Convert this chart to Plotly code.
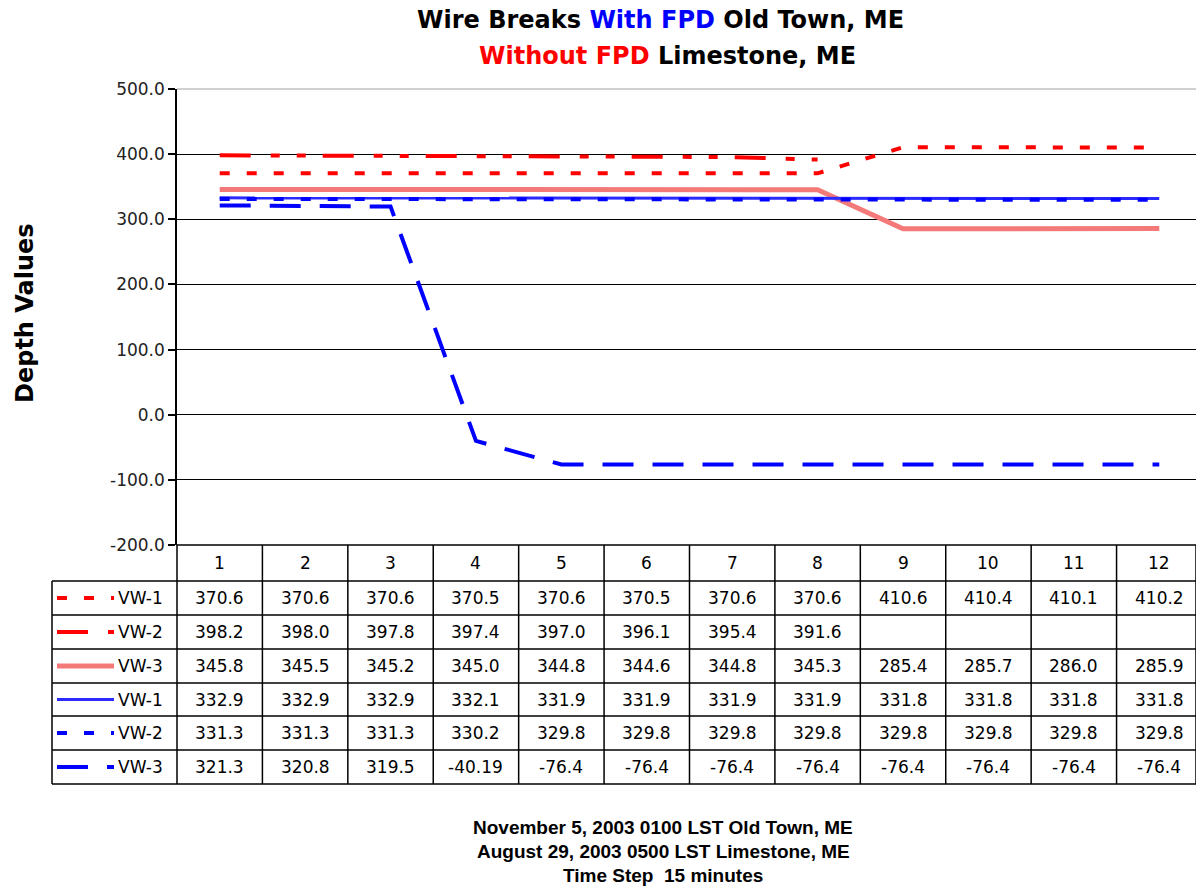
import plotly.graph_objects as go

# ---------------- data ----------------
steps = [1, 2, 3, 4, 5, 6, 7, 8, 9, 10, 11, 12]
series_names = ["VW-1", "VW-2", "VW-3", "VW-1", "VW-2", "VW-3"]
red_vw1 = [370.6, 370.6, 370.6, 370.5, 370.6, 370.5, 370.6, 370.6, 410.6, 410.4, 410.1, 410.2]
red_vw2 = [398.2, 398.0, 397.8, 397.4, 397.0, 396.1, 395.4, 391.6, None, None, None, None]
red_vw3 = [345.8, 345.5, 345.2, 345.0, 344.8, 344.6, 344.8, 345.3, 285.4, 285.7, 286.0, 285.9]
blue_vw1 = [332.9, 332.9, 332.9, 332.1, 331.9, 331.9, 331.9, 331.9, 331.8, 331.8, 331.8, 331.8]
blue_vw2 = [331.3, 331.3, 331.3, 330.2, 329.8, 329.8, 329.8, 329.8, 329.8, 329.8, 329.8, 329.8]
blue_vw3 = [321.3, 320.8, 319.5, -40.19, -76.4, -76.4, -76.4, -76.4, -76.4, -76.4, -76.4, -76.4]
y_ticks = [-200, -100, 0, 100, 200, 300, 400, 500]

series_values = [red_vw1, red_vw2, red_vw3, blue_vw1, blue_vw2, blue_vw3]

# ---------------- styles ----------------
RED = "#ff0000"
BLUE = "#0000ff"
styles = [
    dict(color=RED, width=4, dash="10px,17px"),
    dict(color=RED, width=4, dash="31px,20px,9px,17px,9px,17px"),
    dict(color="#f47a7a", width=5, dash="solid"),
    dict(color="#2b2bff", width=3, dash="solid"),
    dict(color=BLUE, width=4, dash="10px,17px"),
    dict(color=BLUE, width=4, dash="31px,19px"),
]

W, H = 1196, 888
L, R, T, B = 177, 0, 89, 343
PW = W - L - R
PH = H - T - B
X0, X1 = 0.5, 12.43

def px_x(p):
    return (p - L) / PW

def px_y(p):
    return (H - B - p) / PH

FONT = "DejaVu Sans, Arial, sans-serif"

fig = go.Figure()
for vals, st in zip(series_values, styles):
    fig.add_trace(go.Scatter(
        x=steps, y=vals, mode="lines", line=st,
        connectgaps=False, hoverinfo="skip", showlegend=False))

shapes = []
annotations = []

# top grey border at 500
shapes.append(dict(type="line", xref="paper", yref="paper", x0=0, x1=1, y0=1, y1=1,
                   line=dict(color="#a0a0a0", width=1)))

# ---------------- data table ----------------
row_px = [545, 581, 615, 649, 683, 716, 750, 784]
LEG_LEFT = 52
line_style = dict(color="black", width=1.5)
shapes.append(dict(type="line", xref="paper", yref="paper", x0=0, x1=1,
                   y0=px_y(row_px[0]), y1=px_y(row_px[0]), line=line_style))
for rp in row_px[1:]:
    shapes.append(dict(type="line", xref="paper", yref="paper", x0=px_x(LEG_LEFT), x1=1,
                       y0=px_y(rp), y1=px_y(rp), line=line_style))
shapes.append(dict(type="line", xref="paper", yref="paper", x0=0, x1=0,
                   y0=px_y(row_px[0]), y1=px_y(row_px[-1]), line=line_style))
shapes.append(dict(type="line", xref="paper", yref="paper", x0=1, x1=1,
                   y0=px_y(row_px[0]), y1=px_y(row_px[-1]), line=line_style))
shapes.append(dict(type="line", xref="paper", yref="paper", x0=px_x(LEG_LEFT), x1=px_x(LEG_LEFT),
                   y0=px_y(row_px[1]), y1=px_y(row_px[-1]), line=line_style))
for s in steps[:-1]:
    shapes.append(dict(type="line", xref="x", yref="paper", x0=s + 0.5, x1=s + 0.5,
                       y0=px_y(row_px[0]), y1=px_y(row_px[-1]), line=line_style))

TFS = 17
def fmt(v):
    if v is None:
        return ""
    if abs(v * 10 - round(v * 10)) > 1e-6:
        return f"{v:.2f}"
    return f"{v:.1f}"

def cell(x, y, text, xref="x", xanchor="center", size=TFS, **kw):
    return dict(x=x, y=y, xref=xref, yref="paper", text=text, showarrow=False,
                xanchor=xanchor, yanchor="middle",
                font=dict(family=FONT, size=size, color="black"), **kw)

hy = px_y((row_px[0] + row_px[1]) / 2)
for s in steps:
    annotations.append(cell(s, hy, str(s)))
for r, (name, vals, st) in enumerate(zip(series_names, series_values, styles)):
    cy = px_y((row_px[r + 1] + row_px[r + 2]) / 2)
    for s, v in zip(steps, vals):
        annotations.append(cell(s, cy, fmt(v)))
    shapes.append(dict(type="line", xref="paper", yref="paper", x0=px_x(57), x1=px_x(114),
                       y0=cy, y1=cy, line=st))
    annotations.append(cell(px_x(116), cy, name, xref="paper", xanchor="left"))

# ---------------- titles ----------------
annotations.append(dict(x=px_x(660), y=px_y(20), xref="paper", yref="paper", showarrow=False,
                        xanchor="center", yanchor="middle",
                        text="Wire Breaks <span style='color:#0000ff'>With FPD</span> Old Town, ME",
                        font=dict(family=FONT, size=24, color="black", weight="bold")))
annotations.append(dict(x=px_x(667), y=px_y(56), xref="paper", yref="paper", showarrow=False,
                        xanchor="center", yanchor="middle",
                        text="<span style='color:#ff0000'>Without FPD</span> Limestone, ME",
                        font=dict(family=FONT, size=24, color="black", weight="bold")))
annotations.append(dict(x=px_x(25), y=px_y(313), xref="paper", yref="paper", showarrow=False,
                        xanchor="center", yanchor="middle",
                        text="Depth Values", textangle=-90,
                        font=dict(family=FONT, size=24, color="black", weight="bold")))
bottom_lines = ["November 5, 2003 0100 LST Old Town, ME",
                "August 29, 2003 0500 LST Limestone, ME",
                "Time Step  15 minutes"]
for i, txt in enumerate(bottom_lines):
    annotations.append(dict(x=px_x(663), y=px_y(827 + 24 * i), xref="paper", yref="paper",
                            showarrow=False, text=txt, xanchor="center", yanchor="middle",
                            font=dict(family="Liberation Sans, Arial, sans-serif", size=19,
                                      color="black", weight="bold")))

tick_text = [f"{v:.1f}" for v in y_ticks]

fig.update_layout(
    width=W, height=H,
    margin=dict(l=L, r=R, t=T, b=B, pad=0),
    paper_bgcolor="white", plot_bgcolor="white",
    showlegend=False, hovermode=False,
    xaxis=dict(range=[X0, X1], showticklabels=False, showgrid=False, zeroline=False,
               showline=False, ticks=""),
    yaxis=dict(range=[-200, 500], tickvals=y_ticks, ticktext=tick_text,
               showgrid=True, gridcolor="black", gridwidth=1, zeroline=False,
               showline=True, linecolor="black", linewidth=1.5,
               ticks="outside", ticklen=7, tickcolor="black", tickwidth=1.5,
               tickfont=dict(family=FONT, size=17, color="#222222")),
    shapes=shapes, annotations=annotations,
)

fig.write_html("out.html")
